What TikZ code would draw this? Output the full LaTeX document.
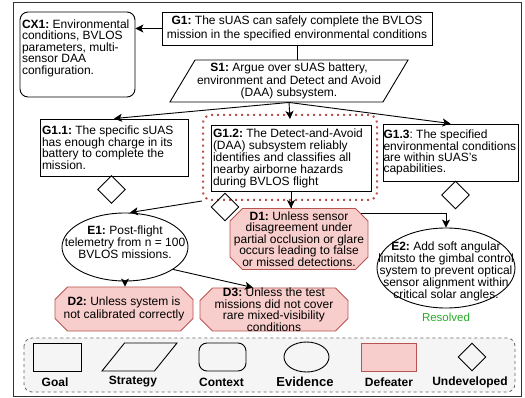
\documentclass[tikz,border=0pt]{standalone}
\usepackage{fontspec}
\setmainfont{Liberation Sans}
\usetikzlibrary{shapes.geometric,shapes.misc,arrows.meta,backgrounds}
\frenchspacing

\definecolor{dfill}{HTML}{F8CECC}
\definecolor{dline}{HTML}{B85450}
\definecolor{keyfill}{HTML}{F5F5F5}
\definecolor{okgreen}{RGB}{40,170,40}

% text of an evidence node, kept out of the ellipse size
\newcommand{\evtext}[2][0pt]{\makebox[0pt]{\smash{\raisebox{#1}{\begin{tabular}{@{}c@{}}#2\end{tabular}}}}}

\begin{document}
\begin{tikzpicture}[x=1pt,y=-1pt,
    >={Stealth[length=8pt,width=8pt,inset=2pt]},
    every node/.style={font=\fontsize{12}{11.5}\selectfont},
    every path/.style={line width=0.9pt},
    goal/.style={draw, rectangle, inner xsep=2pt, inner ysep=3pt, align=flush left},
    context/.style={draw, rectangle, rounded corners=8pt, inner xsep=2pt, inner ysep=3pt, align=flush left},
    strategy/.style={draw, trapezium, trapezium stretches=true, inner sep=2pt, align=flush center},
    evidence/.style={draw, ellipse, inner sep=0pt},
    defeater/.style={draw=dline, fill=dfill, chamfered rectangle, chamfered rectangle xsep=9pt,
        inner xsep=-6pt, inner ysep=-3pt, align=flush center},
    undev/.style={draw, diamond, inner sep=0pt, minimum width=28pt, minimum height=28pt},
    keytext/.style={font=\fontsize{12}{12}\selectfont\bfseries}
]
\useasboundingbox (0,0) rectangle (525,398);
\draw[line width=1pt, black!80] (13,3) rectangle (521,396);

% goals
\node[goal, align=flush center, minimum width=270pt, minimum height=33pt,
    font=\fontsize{12}{14}\selectfont] (G1) at (297,28.5)
    {\textbf{G1:} The sUAS can safely complete the BVLOS\\mission in the specified environmental conditions};
\node[context, text width=111pt, minimum height=85pt, text depth=61.5pt] (CX1) at (77.5,54.5)
    {\textbf{CX1:} Environmental\\conditions, BVLOS\\parameters, multi-\\sensor DAA\\configuration.};
\node[strategy, trapezium left angle=58, trapezium right angle=122, minimum width=230pt,
    minimum height=42pt, font=\fontsize{12}{12.5}\selectfont] (S1) at (289,81)
    {\textbf{S1:} Argue over sUAS battery,\\environment and Detect and Avoid\\(DAA) subsystem.};
\node[goal, text width=144pt, minimum height=57pt] (G11) at (114,147.5)
    {\textbf{G1.1:} The specific sUAS\\has enough charge in its\\battery to complete the\\mission.};
\node[goal, text width=156pt, minimum height=65pt, font=\fontsize{12}{12}\selectfont] (G12) at (291,158.5)
    {\textbf{G1.2:} The Detect-and-Avoid\\(DAA) subsystem reliably\\identifies and classifies all\\nearby airborne hazards\\during BVLOS flight};
\node[goal, text width=134pt, inner xsep=0.5pt, minimum height=57pt, font=\fontsize{12}{11}\selectfont] (G13) at (450.5,152.5)
    {\textbf{G1.3}: The specified\\environmental conditions\\are within sUAS's\\capabilities.};
\node[draw=dline, rounded corners=8pt, line width=2pt, dash pattern=on 2pt off 4pt,
    minimum width=174pt, minimum height=85pt] (R12) at (290,157.5) {};

\node[undev] (U11) at (111.5,189.5) {};
\node[undev] (U12) at (225,207) {};
\node[undev] (U13) at (455.5,195) {};

% evidence and defeaters
\node[evidence, minimum width=126pt, minimum height=68pt] (E1) at (125,247)
    {\evtext{\textbf{E1:} Post-flight\\telemetry from n = 100\\BVLOS missions.}};
\node[evidence, minimum width=138pt, minimum height=80pt, font=\fontsize{12}{10.8}\selectfont] (E2) at (446,268)
    {\evtext[-7pt]{\textbf{E2:} Add soft angular\\limitsto the gimbal control\\system to prevent optical\\sensor alignment within\\critical solar angles.}};
\node[text=okgreen, font=\fontsize{11.5}{11.5}\selectfont] (res) at (446,317) {Resolved};
\node[defeater, minimum width=138pt, minimum height=61pt] (D1) at (299,239)
    {\textbf{D1:} Unless sensor\\disagreement under\\partial occlusion or glare\\occurs leading to false\\or missed detections.};
\node[defeater, minimum width=138pt, minimum height=44pt, font=\fontsize{12}{13}\selectfont] (D2) at (124,309)
    {\textbf{D2:} Unless system is\\not calibrated correctly};
\node[defeater, minimum width=148pt, minimum height=43pt, inner ysep=-5pt] (D3) at (274,309.5)
    {\textbf{D3:} Unless the test\\missions did not cover\\rare mixed-visibility\\conditions};

% connectors
\draw[->] (G1.west) -- (CX1.east |- G1.west);
\draw (G1.south) -- (G1.south |- S1.north);
\coordinate (S1b) at (S1.center |- S1.south);
\draw[->] (S1b) -- (G11.north);
\draw[->] (S1b) -- ([yshift=-5pt]R12.north);
\draw[->] (S1b) -- (G13.north);
\draw[->] (R12.south west) -- ([xshift=5pt]E1.north);
\draw[->] (G12.south) -- (G12.south |- D1.north);
\begin{scope}[on background layer]
\draw[->] (G12.south) -- ++(0,22) -| (E2.north);
\end{scope}
\draw[->] (E1.south) -- (E1.south |- D2.north);
\draw[->] (E1.335) -- ([xshift=-21pt]D3.north);

% key
\draw[dashed, draw=black!60, fill=keyfill, rounded corners=8pt, line width=0.8pt] (24,338) rectangle (515,392);
\node[goal, minimum width=48pt, minimum height=28pt] (kgoal) at (57,357) {};
\node[strategy, trapezium left angle=53, trapezium right angle=127, minimum width=75pt,
    minimum height=28pt] (kstrat) at (139.5,357) {};
\node[context, minimum width=47pt, minimum height=28pt] (kctx) at (222.5,357) {};
\node[evidence, minimum width=45pt, minimum height=30pt] (kev) at (306.5,357) {};
\node[defeater, chamfered rectangle xsep=5pt, inner sep=0pt, minimum width=55pt, minimum height=28pt] (kdef) at (388.5,357) {};
\node[undev] (kund) at (472,357) {};
\node[keytext] at (55,382) {Goal};
\node[keytext] at (133,382) {Strategy};
\node[keytext] at (221.5,382) {Context};
\node[keytext, font=\fontsize{13}{13}\selectfont\bfseries] at (305,382) {Evidence};
\node[keytext] at (389,382) {Defeater};
\node[keytext] at (470,382) {Undeveloped};
\end{tikzpicture}
\end{document}
